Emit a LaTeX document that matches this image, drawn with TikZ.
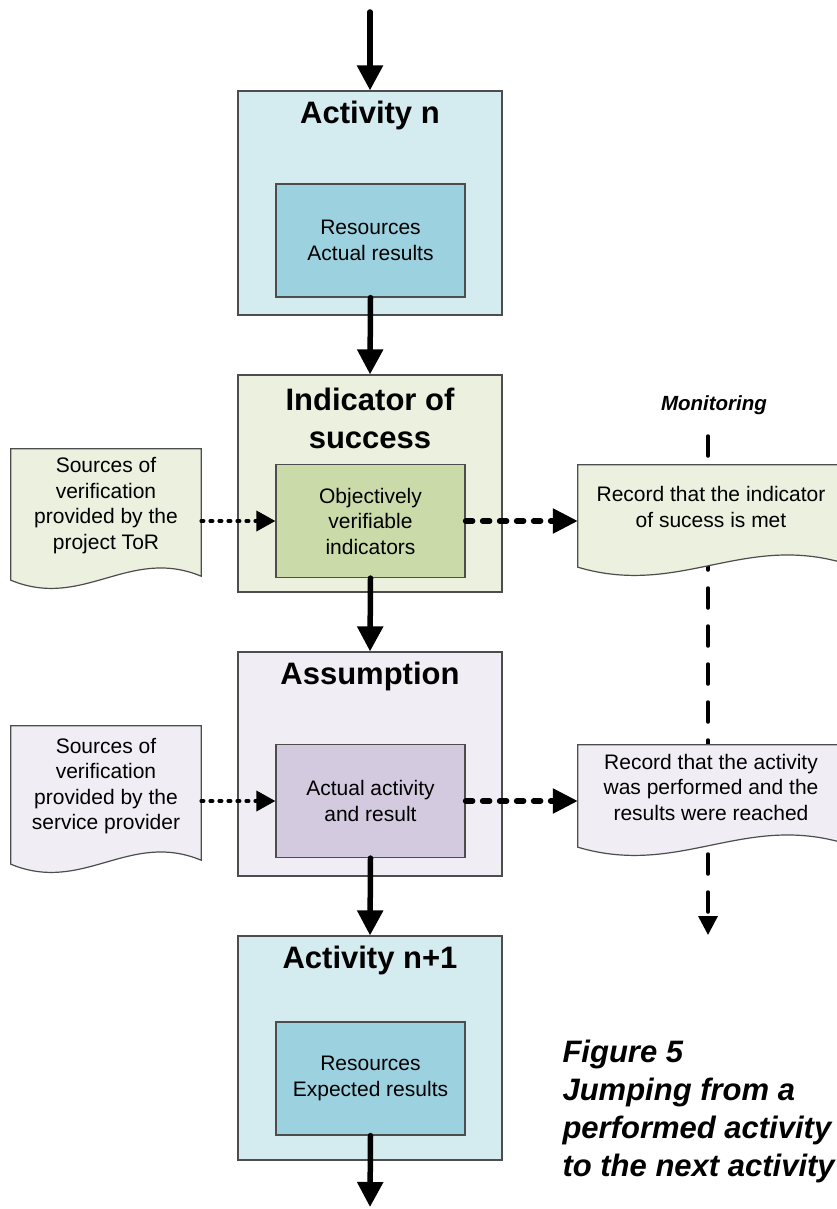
\documentclass[tikz,border=0pt]{standalone}
\usepackage{fontspec}
\setmainfont{Liberation Sans}
\usetikzlibrary{arrows.meta,calc,backgrounds}

\definecolor{actback}{HTML}{D4EBF0}
\definecolor{actfill}{HTML}{9CD1DF}
\definecolor{indback}{HTML}{EBF0DF}
\definecolor{indfill}{HTML}{CADAA8}
\definecolor{assback}{HTML}{F0EEF4}
\definecolor{assfill}{HTML}{D3CAE0}
\definecolor{boxline}{HTML}{4D4D4D}

\newcommand{\docwave}[2]{%
    \filldraw[fill=#2,draw=boxline,line width=1.2pt]
      ($(#1.south west)+(0,18)$) -- (#1.north west) -- (#1.north east) -- ($(#1.south east)+(0,14)$)
      .. controls ($(#1.south east)!0.38!(#1.south west)+(0,-16)$) and ($(#1.south east)!0.62!(#1.south west)+(0,48)$) .. ($(#1.south west)+(0,18)$) -- cycle;}

\begin{document}
\begin{tikzpicture}[x=1pt,y=-1pt,
    outerbox/.style={draw=boxline,line width=1.2pt,minimum width=264pt,minimum height=224pt,inner sep=0pt},
    innerbox/.style={draw=boxline,line width=1.2pt,minimum width=189pt,minimum height=113pt,align=center,
      font=\fontsize{21}{25.5}\selectfont},
    boxtitle/.style={align=center,font=\fontsize{31}{38}\selectfont\bfseries},
    docbox/.style={align=center,inner sep=0pt,font=\fontsize{21}{25.5}\selectfont},
    flowarrow/.style={line width=5.5pt,line cap=round,-{Triangle[length=25pt,width=25pt]}},
    dotarrow/.style={line width=3.5pt,line cap=round,dash pattern=on 2.5pt off 6.5pt,-{Triangle[length=19pt,width=20pt]}},
    dasharrow/.style={line width=5.5pt,line cap=round,dash pattern=on 7pt off 10pt,-{Triangle[length=25pt,width=24pt]}},
    monline/.style={line width=3.5pt,line cap=round,dash pattern=on 20pt off 18pt,-{Triangle[length=19pt,width=19pt]}}]
    \useasboundingbox (0,0) rectangle (837,1209);

    \node[outerbox,fill=actback] (actn) at (370,203) {};
    \node[boxtitle] (actntitle) at (370,115) {Activity n};
    \node[innerbox,fill=actfill] (actnin) at (370.5,240.5) {Resources\\Actual results};

    \node[outerbox,fill=indback,minimum height=217pt] (ind) at (370,483.5) {};
    \node[boxtitle] (indtitle) at (370,418) {Indicator of\\success};
    \node[innerbox,fill=indfill] (indin) at (370.5,521) {Objectively\\verifiable\\indicators};

    \node[outerbox,fill=assback] (ass) at (370,764) {};
    \node[boxtitle] (asstitle) at (370,676) {Assumption};
    \node[innerbox,fill=assfill] (assin) at (370.5,801) {Actual activity\\and result};

    \node[outerbox,fill=actback] (actm) at (370,1048) {};
    \node[boxtitle] (actmtitle) at (370,960) {Activity n+1};
    \node[innerbox,fill=actfill] (actmin) at (370.5,1078.5) {Resources\\Expected results};

    \node[docbox,minimum width=190pt,minimum height=113pt] (srcind) at (106,505.5) {Sources of\\verification\\provided by the\\project ToR};
    \node[docbox,minimum width=190pt,minimum height=120pt] (srcass) at (106,786) {Sources of\\verification\\provided by the\\service provider};
    \node[docbox,minimum width=266pt,minimum height=84pt] (recind) at (711,507) {Record that the indicator\\of sucess is met};
    \node[docbox,minimum width=266pt,minimum height=84pt] (recass) at (711,787) {Record that the activity\\was performed and the\\results were reached};

    \node[font=\fontsize{20.5}{24}\selectfont\bfseries\itshape] (mon) at (714,405) {Monitoring};
    \node[anchor=west,align=left,font=\fontsize{31}{38}\selectfont\bfseries\itshape] (cap) at (559,1111.5)
      {Figure 5\\Jumping from a\\performed activity\\to the next activity};

    \coordinate (topin) at (370,12);
    \coordinate (botout) at (370,1207);
    \coordinate (monstart) at (708,436);
    \coordinate (monend) at (708,935);

    \begin{scope}[on background layer]
        \fill[white] (0,0) rectangle (837,1209);
        \draw[monline] (monstart) -- (monend);
        \docwave{srcind}{indback}
        \docwave{srcass}{assback}
        \docwave{recind}{indback}
        \docwave{recass}{assback}
    \end{scope}

    \draw[flowarrow] (topin) -- (actn.north);
    \draw[flowarrow] (actnin.south) -- (ind.north);
    \draw[flowarrow] (indin.south) -- (ass.north);
    \draw[flowarrow] (assin.south) -- (actm.north);
    \draw[flowarrow] (actmin.south) -- (botout);
    \draw[dotarrow] (srcind.east |- indin) -- (indin.west);
    \draw[dotarrow] (srcass.east |- assin) -- (assin.west);
    \draw[dasharrow] (indin.east) -- (recind.west |- indin);
    \draw[dasharrow] (assin.east) -- (recass.west |- assin);
\end{tikzpicture}
\end{document}
